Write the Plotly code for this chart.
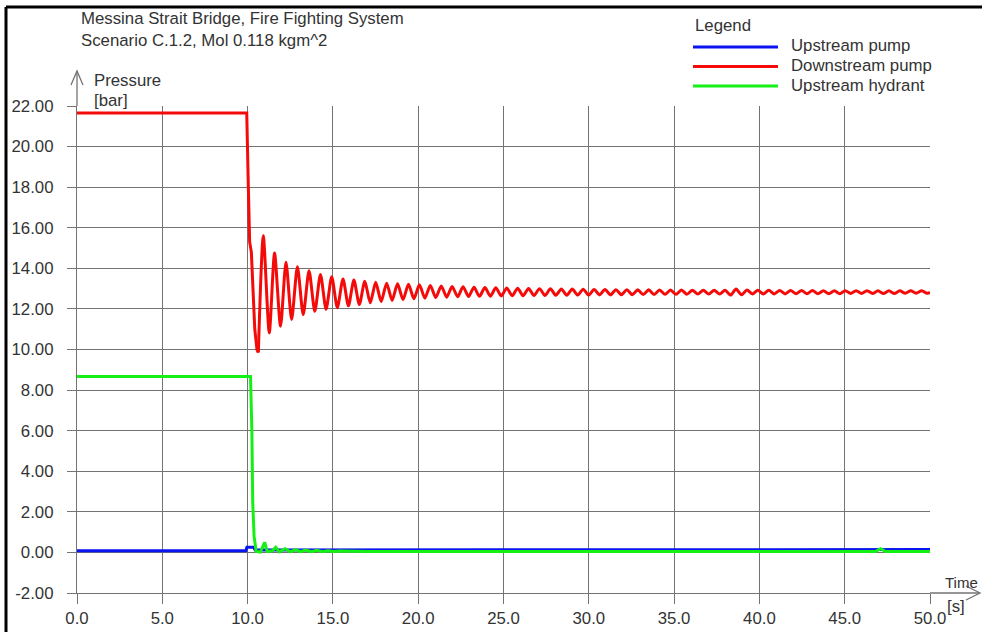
import plotly.graph_objects as go

# ---------------- data ----------------
series_names = ["Upstream pump", "Downstream pump", "Upstream hydrant"]
series_colors = ["#0a14f0", "#f50a0a", "#14f014"]

# Upstream pump pressure [bar]
up_pump_t = [0.0, 9.90, 9.96, 10.35, 10.45, 20.0, 35.0, 50.0]
up_pump_p = [0.08, 0.08, 0.25, 0.25, 0.12, 0.12, 0.13, 0.14]

# Downstream pump pressure [bar]: plateau, pump trip, damped surge
down_pump_t = [
    0.0, 9.95, 10.03, 10.12, 10.22, 10.30, 10.42, 10.55, 10.63,
    10.92, 11.27, 11.58, 11.93, 12.25, 12.58, 12.92, 13.26, 13.60, 13.94,
    14.27, 14.60, 14.93, 15.26, 15.59,
    15.91, 16.23, 16.55, 16.87, 17.19, 17.51, 17.83, 18.15, 18.47, 18.79,
    19.11, 19.43, 19.75, 20.07, 20.39, 20.71, 21.03, 21.35, 21.67, 21.99,
    22.31, 22.63, 22.95, 23.27, 23.59, 23.91, 24.23, 24.55, 24.87, 25.19,
    25.51, 25.83, 26.15, 26.47, 26.79, 27.11, 27.43, 27.75, 28.07, 28.39,
    28.71, 29.03, 29.35, 29.67, 29.99, 30.31, 30.63, 30.95, 31.27, 31.59,
    31.91, 32.23, 32.55, 32.87, 33.19, 33.51, 33.83, 34.15, 34.47, 34.79,
    35.11, 35.43, 35.75, 36.07, 36.39, 36.71, 37.03, 37.35, 37.67, 37.99,
    38.31, 38.63, 38.95, 39.27, 39.59, 39.91, 40.23, 40.55, 40.87, 41.19,
    41.51, 41.83, 42.15, 42.47, 42.79, 43.11, 43.43, 43.75, 44.07, 44.39,
    44.71, 45.03, 45.35, 45.67, 45.99, 46.31, 46.63, 46.95, 47.27, 47.59,
    47.91, 48.23, 48.55, 48.87, 49.19, 49.51, 49.83, 50.0,
]
down_pump_p = [
    21.65, 21.65, 18.50, 15.30, 14.80, 13.20, 11.00, 10.00, 9.85,
    15.60, 10.82, 14.75, 11.15, 14.30, 11.48, 14.08, 11.72, 13.88, 11.88,
    13.70, 11.98, 13.58, 12.06, 13.48,
    12.15, 13.42, 12.22, 13.36, 12.30, 13.31, 12.36, 13.27, 12.42, 13.24,
    12.46, 13.21, 12.50, 13.19, 12.53, 13.16, 12.56, 13.13, 12.58, 13.11,
    12.60, 13.09, 12.61, 13.07, 12.62, 13.05, 12.63, 13.04, 12.64, 13.03,
    12.65, 13.02, 12.65, 13.01, 12.66, 13.00, 12.66, 12.99, 12.67, 12.98,
    12.67, 12.98, 12.68, 12.97, 12.68, 12.96, 12.69, 12.96, 12.69, 12.95,
    12.70, 12.95, 12.70, 12.94, 12.71, 12.94, 12.71, 12.93, 12.72, 12.93,
    12.72, 12.93, 12.72, 12.92, 12.73, 12.92, 12.73, 12.92, 12.73, 12.92,
    12.68, 12.98, 12.70, 12.93, 12.74, 12.92, 12.74, 12.92, 12.74, 12.91,
    12.74, 12.91, 12.75, 12.91, 12.75, 12.91, 12.75, 12.90, 12.75, 12.90,
    12.75, 12.90, 12.76, 12.90, 12.76, 12.90, 12.76, 12.89, 12.76, 12.89,
    12.76, 12.89, 12.77, 12.89, 12.77, 12.89, 12.77, 12.82,
]
# index where the surge oscillation begins (first trough after the trip)
SURGE_START = 8

# Upstream hydrant pressure [bar]
hydrant_t = [
    0.0, 10.17, 10.25, 10.30, 10.38, 10.50, 10.75, 11.00, 11.15, 11.45,
    11.65, 11.85, 12.20, 12.50, 12.80, 13.10, 13.40, 13.75, 14.05, 14.40,
    14.70, 15.05, 15.40, 16.00, 17.00, 20.0, 30.0, 46.80, 47.10, 47.40, 50.0,
]
hydrant_p = [
    8.67, 8.67, 6.00, 2.50, 0.80, 0.05, 0.02, 0.50, 0.05, 0.08,
    0.25, 0.03, 0.18, 0.03, 0.14, 0.04, 0.12, 0.04, 0.10, 0.04,
    0.08, 0.04, 0.07, 0.05, 0.05, 0.05, 0.04, 0.04, 0.18, 0.04, 0.04,
]

x_ticks = [0, 5, 10, 15, 20, 25, 30, 35, 40, 45, 50]
y_ticks = [-2, 0, 2, 4, 6, 8, 10, 12, 14, 16, 18, 20, 22]

title_lines = ["Messina Strait Bridge, Fire Fighting System",
               "Scenario C.1.2, Mol 0.118 kgm^2"]

# ---------------- layout helpers ----------------
W, H = 982, 632
ML, MR, MT, MB = 77, 52, 106, 39
FONT = "Liberation Sans, Arial, sans-serif"
FS = 16.8
TXT = "#333333"
GRID = "#737373"


def px(x):
    return (x - ML) / (W - ML - MR)


def py(y):
    return (H - MB - y) / (H - MT - MB)


def label(text, x, y, size=FS):
    return dict(text=text, xref="paper", yref="paper", x=px(x), y=py(y),
                xanchor="left", yanchor="middle", showarrow=False,
                font=dict(family=FONT, size=size, color=TXT))


def add_line(t, p, i, shape="linear"):
    fig.add_trace(go.Scatter(
        x=t, y=p, mode="lines", name=series_names[i],
        line=dict(color=series_colors[i], width=3, shape=shape,
                  smoothing=0.7 if shape == "spline" else None),
        showlegend=False, cliponaxis=False,
    ))


fig = go.Figure()
add_line(up_pump_t, up_pump_p, 0)
# plateau and trip drawn straight, the surge oscillation smoothed
add_line(down_pump_t[:SURGE_START + 1], down_pump_p[:SURGE_START + 1], 1)
add_line(down_pump_t[SURGE_START:], down_pump_p[SURGE_START:], 1, "spline")
add_line(hydrant_t, hydrant_p, 2)

shapes = []
annotations = []

# frame lines (top and left)
shapes.append(dict(type="line", xref="paper", yref="paper",
                   x0=px(6), x1=px(W + 5), y0=py(7), y1=py(7),
                   line=dict(color="black", width=3)))
shapes.append(dict(type="line", xref="paper", yref="paper",
                   x0=px(6), x1=px(6), y0=py(7), y1=py(H + 5),
                   line=dict(color="black", width=3)))

# y-axis arrow
shapes.append(dict(type="line", xref="paper", yref="paper",
                   x0=px(ML), x1=px(ML), y0=py(MT), y1=py(71),
                   line=dict(color=GRID, width=1.3)))
shapes.append(dict(type="path", xref="paper", yref="paper",
                   path=f"M {px(ML-6)} {py(85)} L {px(ML)} {py(71)} L {px(ML+6)} {py(85)}",
                   line=dict(color=GRID, width=1.3)))
# x-axis arrow
shapes.append(dict(type="line", xref="paper", yref="paper",
                   x0=px(W - MR), x1=px(980), y0=py(H - MB), y1=py(H - MB),
                   line=dict(color=GRID, width=1.3)))
shapes.append(dict(type="path", xref="paper", yref="paper",
                   path=f"M {px(966)} {py(H-MB-7)} L {px(980)} {py(H-MB)} L {px(966)} {py(H-MB+7)}",
                   line=dict(color=GRID, width=1.3)))

# title
for k, line in enumerate(title_lines):
    annotations.append(label(line, 79, 18 + 22 * k))

# axis titles
annotations.append(label("Pressure", 92, 80))
annotations.append(label("[bar]", 92, 101))
annotations.append(label("Time", 943, 582, 15))
annotations.append(label("[s]", 945, 606))

# legend block
annotations.append(label("Legend", 693, 25))
for i, (name, col) in enumerate(zip(series_names, series_colors)):
    yy = 46 + 19.5 * i
    shapes.append(dict(type="line", xref="paper", yref="paper",
                       x0=px(693), x1=px(778), y0=py(yy + 1), y1=py(yy + 1),
                       line=dict(color=col, width=3)))
    annotations.append(label(name, 789, yy))

axis_common = dict(showgrid=True, gridcolor=GRID, gridwidth=1.3,
                   zeroline=False, showline=True, linecolor=GRID,
                   linewidth=1.3, ticks="outside", tickcolor=GRID,
                   tickwidth=1.3, mirror=False, automargin=False,
                   tickfont=dict(family=FONT, size=FS, color=TXT))

fig.update_layout(
    width=W, height=H,
    margin=dict(l=ML, r=MR, t=MT, b=MB, pad=0, autoexpand=False),
    paper_bgcolor="white", plot_bgcolor="white",
    showlegend=False,
    xaxis=dict(range=[0, 50], tickvals=x_ticks,
               ticktext=[f"{v:.1f}" for v in x_ticks],
               ticklen=10, fixedrange=True, **axis_common),
    yaxis=dict(range=[-2, 22], tickvals=y_ticks,
               ticktext=[f"{v:.2f}" for v in y_ticks],
               ticklen=9, ticklabelstandoff=10, fixedrange=True,
               **axis_common),
    shapes=shapes,
    annotations=annotations,
)

fig.write_html("out.html", config={"displayModeBar": False})
